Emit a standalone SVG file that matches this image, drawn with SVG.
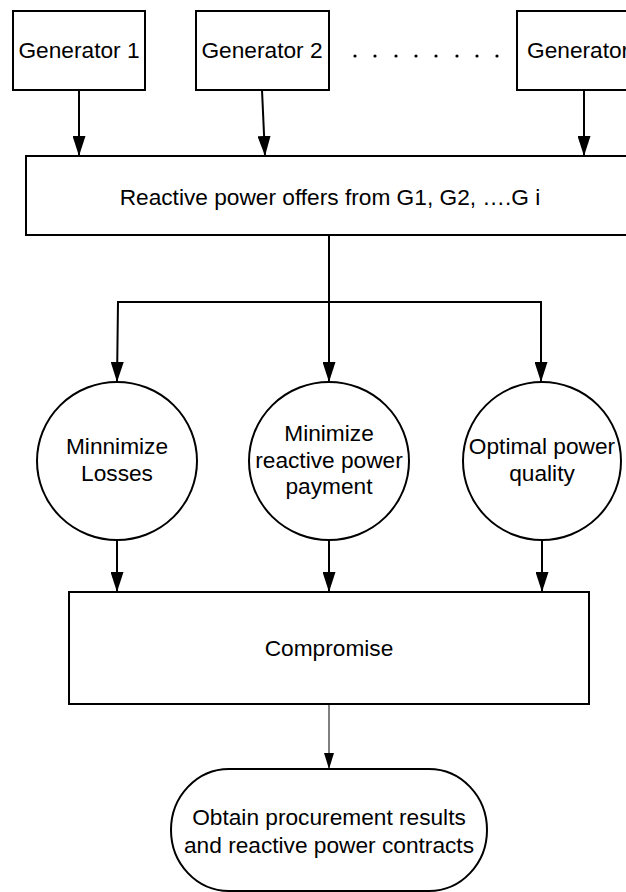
<svg xmlns="http://www.w3.org/2000/svg" width="626" height="892" viewBox="0 0 626 892">
<style>
.box{fill:#fff;stroke:#000;stroke-width:2}
.t{font-family:"Liberation Sans",Arial,sans-serif;font-size:22.7px;fill:#000;text-anchor:middle}
.c{fill:none;stroke:#000;stroke-width:2}
.thin{fill:none;stroke:#000;stroke-width:1}
</style>
<defs>
<marker id="ah" markerUnits="userSpaceOnUse" markerWidth="20" markerHeight="13" refX="20" refY="6.5" orient="auto" viewBox="0 0 20 13">
<path d="M0,0 L20,6.5 L0,13 Z" fill="#000"/>
</marker>
<marker id="ahs" markerUnits="userSpaceOnUse" markerWidth="16" markerHeight="10" refX="16" refY="5" orient="auto" viewBox="0 0 16 10">
<path d="M0,0 L16,5 L0,10 Z" fill="#000"/>
</marker>
</defs>
<rect width="626" height="892" fill="#fff"/>
<g id="gen1"><rect class="box" x="13" y="11" width="132" height="79"/><text class="t" x="79" y="58">Generator 1</text></g>
<g id="gen2"><rect class="box" x="196" y="11" width="133" height="79"/><text class="t" x="262" y="58">Generator 2</text></g>
<g id="dots" fill="#000"><circle cx="355" cy="56" r="1.6"/><circle cx="375" cy="56" r="1.6"/><circle cx="396" cy="56" r="1.6"/><circle cx="416" cy="56" r="1.6"/><circle cx="436" cy="56" r="1.6"/><circle cx="457" cy="56" r="1.6"/><circle cx="477" cy="56" r="1.6"/><circle cx="497" cy="56" r="1.6"/></g>
<g id="geni"><rect class="box" x="517" y="11" width="120" height="79"/><text class="t" x="527" y="58" style="text-anchor:start">Generator</text></g>
<g id="offers"><rect class="box" x="26" y="156" width="620" height="79"/><text class="t" x="330" y="205">Reactive power offers from G1, G2, ….G i</text></g>
<g id="losses"><ellipse class="box" cx="117" cy="461" rx="80" ry="79"/><text class="t" x="117" y="454">Minnimize</text><text class="t" x="117" y="481">Losses</text></g>
<g id="payment"><ellipse class="box" cx="329" cy="461" rx="80" ry="79"/><text class="t" x="329" y="441">Minimize</text><text class="t" x="329" y="468">reactive power</text><text class="t" x="329" y="494">payment</text></g>
<g id="quality"><ellipse class="box" cx="542" cy="461" rx="79" ry="79"/><text class="t" x="542" y="454">Optimal power</text><text class="t" x="542" y="481">quality</text></g>
<g id="compromise"><rect class="box" x="69" y="592" width="520" height="112"/><text class="t" x="329" y="656">Compromise</text></g>
<g id="obtain"><rect class="box" x="171" y="769" width="316" height="122" rx="58" ry="61"/><text class="t" x="329" y="825">Obtain procurement results</text><text class="t" x="329" y="853">and reactive power contracts</text></g>
<g id="connectors">
<line class="c" x1="79" y1="90" x2="79" y2="156" marker-end="url(#ah)"/>
<line class="c" x1="262" y1="90" x2="265" y2="156" marker-end="url(#ah)"/>
<line class="c" x1="584" y1="90" x2="584" y2="156" marker-end="url(#ah)"/>
<line class="c" x1="329" y1="235" x2="329" y2="382" marker-end="url(#ah)"/>
<polyline class="c" points="329,302 541,302 541,382" marker-end="url(#ah)"/>
<polyline class="c" points="329,302 118,302 117,382" marker-end="url(#ah)"/>
<line class="c" x1="117" y1="540" x2="117" y2="592" marker-end="url(#ah)"/>
<line class="c" x1="329" y1="540" x2="329" y2="592" marker-end="url(#ah)"/>
<line class="c" x1="542" y1="540" x2="542" y2="592" marker-end="url(#ah)"/>
<line class="thin" x1="329" y1="704" x2="329" y2="769" marker-end="url(#ahs)"/>
</g>
</svg>
